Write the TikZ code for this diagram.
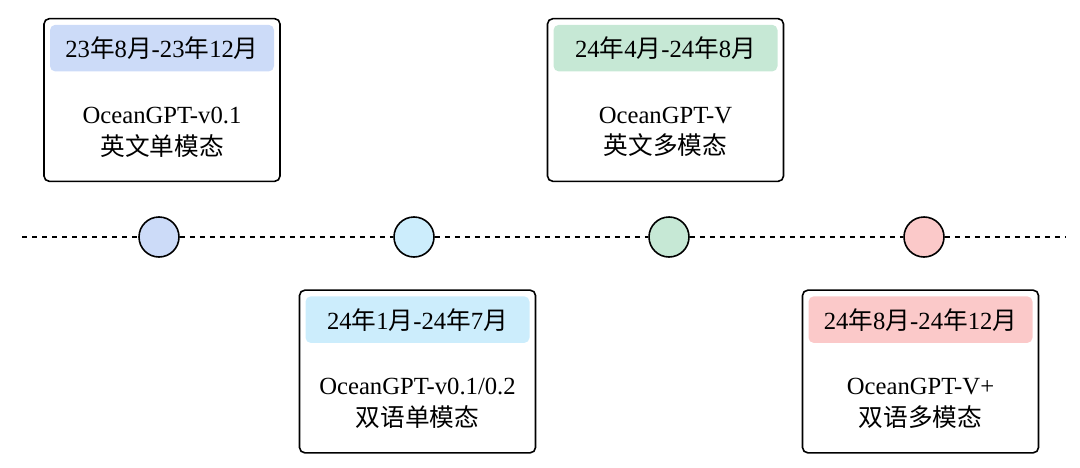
\documentclass[tikz,border=0pt]{standalone}
\usepackage{fontspec}
\setmainfont{Liberation Serif}
\newfontfamily\cjk{Noto Sans CJK SC}
\usetikzlibrary{positioning}

\newcommand{\zh}[1]{{\cjk #1}}

\definecolor{tagblue}{HTML}{CCDBF8}
\definecolor{tagcyan}{HTML}{CCEDFC}
\definecolor{taggreen}{HTML}{C6E8D5}
\definecolor{tagpink}{HTML}{FBC9C9}

\tikzset{
  period/.style={draw, line width=1.2pt, rounded corners=4pt,
    minimum width=177pt, minimum height=122pt, inner sep=0pt},
  datetag/.style={fill=#1, rounded corners=4pt, inner sep=0pt,
    minimum width=168pt, minimum height=35pt,
    font=\fontsize{18.5}{21.75}\selectfont},
  model/.style={align=center, inner sep=0pt,
    font=\fontsize{18.5}{21.75}\selectfont},
  dot/.style={circle, draw, line width=1.2pt, fill=#1,
    minimum size=30pt, inner sep=0pt},
  timeline/.style={line width=1pt, dash pattern=on 3.75pt off 3.75pt},
}

\begin{document}
\begin{tikzpicture}[x=0.75pt, y=-0.75pt]
    \useasboundingbox (0,0) rectangle (1080,467);

    % Timeline with the four dots
    \coordinate (left) at (22,237);
    \coordinate (right) at (1065,237);
    \node[dot=tagblue] (dot1) at (159,237) {};
    \node[dot=tagcyan] (dot2) at (414,237) {};
    \node[dot=taggreen] (dot3) at (669,237) {};
    \node[dot=tagpink] (dot4) at (924,237) {};
    \draw[timeline] (left) -- (dot1) -- (dot2) -- (dot3) -- (dot4) -- (right);

    % Boxes above the line
    \node[period] (box1) at (162,100) {};
    \node[datetag=tagblue, below=5pt of box1.north] (tag1)
        {23\zh{年}8\zh{月}-23\zh{年}12\zh{月}};
    \node[model] (model1) at ([yshift=-24pt]box1.center)
        {OceanGPT-v0.1\\[2pt]\zh{英文单模态}};

    \node[period] (box3) at (665.5,100) {};
    \node[datetag=taggreen, below=5pt of box3.north] (tag3)
        {24\zh{年}4\zh{月}-24\zh{年}8\zh{月}};
    \node[model] (model3) at ([yshift=-24pt]box3.center)
        {OceanGPT-V\\[2pt]\zh{英文多模态}};

    % Boxes below the line
    \node[period] (box2) at (417.5,371.5) {};
    \node[datetag=tagcyan, below=5pt of box2.north] (tag2)
        {24\zh{年}1\zh{月}-24\zh{年}7\zh{月}};
    \node[model] (model2) at ([yshift=-24pt]box2.center)
        {OceanGPT-v0.1/0.2\\[2pt]\zh{双语单模态}};

    \node[period] (box4) at (920.5,371.5) {};
    \node[datetag=tagpink, below=5pt of box4.north] (tag4)
        {24\zh{年}8\zh{月}-24\zh{年}12\zh{月}};
    \node[model] (model4) at ([yshift=-24pt]box4.center)
        {OceanGPT-V+\\[2pt]\zh{双语多模态}};
\end{tikzpicture}
\end{document}
